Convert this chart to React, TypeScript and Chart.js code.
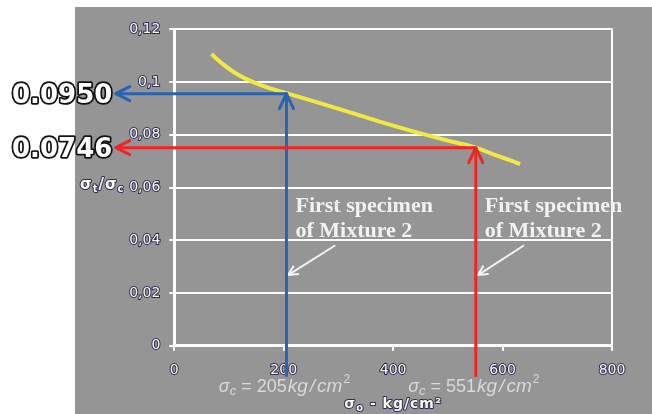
import { useEffect, useRef } from 'react';
import { Chart, registerables } from 'chart.js';

Chart.register(...registerables);

// ---- data ----
const curveX = [68, 90, 110, 130, 150, 175, 205, 260, 320, 380, 440, 500, 551, 590, 632];
const curveY = [0.1106, 0.1066, 0.1036, 0.1013, 0.0995, 0.0976, 0.0958, 0.0924, 0.0886, 0.0847, 0.0811, 0.0778, 0.0751, 0.0721, 0.0689];

const xTicks = [0, 200, 400, 600, 800];
const xTickLabels = ['0', '200', '400', '600', '800'];
const yTicks = [0, 0.02, 0.04, 0.06, 0.08, 0.1, 0.12];
const yTickLabels = ['0', '0,02', '0,04', '0,06', '0,08', '0,1', '0,12'];

const markerX = [205, 551];
const markerY = [0.0956, 0.0751];
const markerLabels = ['0.0950', '0.0746'];
const markerColors = ['#2b63b3', '#ec2626'];
const sigmaValues = ['205', '551'];
const arrowLeftX = -107;
const arrowBottomY = -0.0118;

const noteLines = ['First specimen', 'of Mixture 2'];
const noteY = 0.0508;
const pointerStartX = [293, 638];
const pointerTipX = [208, 555];
const pointerStartY = 0.0379;
const pointerTipY = 0.0268;

const xTitle = ['σ', 'o', ' - kg/cm²'];
const yTitle = ['σ', 't', '/', 'σ', 'c'];

// ---- styles ----
const BG = '#959595';
const CREAM = '#fffbea';
const FRINGE = 'rgba(35,30,85,0.9)';
const WHITE = '#ffffff';

function head(ctx: CanvasRenderingContext2D, tx: number, ty: number, ang: number, len: number, half: number) {
  const dx = Math.cos(ang), dy = Math.sin(ang);
  const bx = tx - dx * len, by = ty - dy * len;
  const nx = -dy, ny = dx;
  ctx.beginPath();
  ctx.moveTo(bx + nx * half, by + ny * half);
  ctx.lineTo(tx, ty);
  ctx.lineTo(bx - nx * half, by - ny * half);
  ctx.stroke();
}

function fringeText(ctx: CanvasRenderingContext2D, t: string, x: number, y: number) {
  ctx.lineWidth = 2;
  ctx.strokeStyle = FRINGE;
  ctx.lineJoin = 'round';
  ctx.strokeText(t, x, y);
  ctx.fillStyle = CREAM;
  ctx.fillText(t, x, y);
}

type Piece = { t: string; font: string; dy?: number; gap?: number };

function measurePieces(ctx: CanvasRenderingContext2D, pieces: Piece[]) {
  let w = 0;
  pieces.forEach((p) => {
    ctx.font = p.font;
    w += ctx.measureText(p.t).width + (p.gap || 0);
  });
  return w;
}

function drawPieces(ctx: CanvasRenderingContext2D, pieces: Piece[], x: number, y: number, fringe: boolean, color?: string) {
  let cx = x;
  pieces.forEach((p) => {
    ctx.font = p.font;
    if (fringe) fringeText(ctx, p.t, cx, y + (p.dy || 0));
    else {
      ctx.fillStyle = color || WHITE;
      ctx.fillText(p.t, cx, y + (p.dy || 0));
    }
    cx += ctx.measureText(p.t).width + (p.gap || 0);
  });
}

const decor = {
  id: 'decor',
  beforeDraw(chart: any) {
    const { ctx, width, height } = chart;
    ctx.save();
    ctx.fillStyle = '#ffffff';
    ctx.fillRect(0, 0, width, height);
    ctx.fillStyle = BG;
    ctx.fillRect(75, 7, width - 75, height - 7);
    ctx.restore();
  },
  beforeDatasetsDraw(chart: any) {
    const { ctx, chartArea: ca } = chart;
    ctx.save();
    ctx.strokeStyle = WHITE;
    ctx.lineWidth = 2;
    ctx.beginPath();
    ctx.moveTo(Math.round(ca.right), ca.top - 1);
    ctx.lineTo(Math.round(ca.right), ca.bottom);
    ctx.stroke();
    ctx.restore();
  },
  afterDraw(chart: any) {
    const { ctx, chartArea: ca, scales } = chart;
    const xs = scales.x, ys = scales.y;
    ctx.save();
    ctx.textAlign = 'left';
    ctx.textBaseline = 'alphabetic';

    // notes + pointer arrows
    markerX.forEach((mx, i) => {
      const px = xs.getPixelForValue(mx);
      const ny = ys.getPixelForValue(noteY);
      ctx.font = 'bold 22px "Liberation Serif"';
      ctx.fillStyle = '#f2f2f2';
      noteLines.forEach((ln, j) => ctx.fillText(ln, px + 9, ny + j * 25.6));

      const sx = xs.getPixelForValue(pointerStartX[i]);
      const sy = ys.getPixelForValue(pointerStartY);
      const tx = xs.getPixelForValue(pointerTipX[i]);
      const ty = ys.getPixelForValue(pointerTipY);
      ctx.strokeStyle = '#f4f4f4';
      ctx.lineWidth = 2;
      ctx.lineCap = 'round';
      ctx.lineJoin = 'round';
      ctx.beginPath();
      ctx.moveTo(sx, sy);
      ctx.lineTo(tx, ty);
      ctx.stroke();
      head(ctx, tx, ty, Math.atan2(ty - sy, tx - sx), 9, 4.5);
    });

    // marker arrows
    markerX.forEach((mx, i) => {
      const px = xs.getPixelForValue(mx);
      const py = ys.getPixelForValue(markerY[i]);
      const lx = xs.getPixelForValue(arrowLeftX);
      const by = ys.getPixelForValue(arrowBottomY);
      ctx.strokeStyle = markerColors[i];
      ctx.lineWidth = 3;
      ctx.lineCap = 'round';
      ctx.lineJoin = 'round';
      ctx.beginPath();
      ctx.moveTo(px, py);
      ctx.lineTo(lx + 1, py);
      ctx.stroke();
      ctx.lineCap = 'butt';
      ctx.beginPath();
      ctx.moveTo(px, by);
      ctx.lineTo(px, py + 1);
      ctx.stroke();
      ctx.lineCap = 'round';
      head(ctx, lx, py, Math.PI, 14, 7);
      head(ctx, px, py, -Math.PI / 2, 15, 7);

      // outlined value label
      ctx.font = 'bold 26px "DejaVu Sans"';
      ctx.lineWidth = 3.5;
      ctx.strokeStyle = '#111111';
      ctx.strokeText(markerLabels[i], 12, py + 9.5);
      ctx.fillStyle = '#ffffff';
      ctx.fillText(markerLabels[i], 12, py + 9.5);

      // sigma expression
      const pieces: Piece[] = [
        { t: 'σ', font: 'italic 18px "Liberation Sans"' },
        { t: 'c', font: 'italic 13px "Liberation Sans"', dy: 3 },
        { t: ' = ' + sigmaValues[i], font: '18px "Liberation Sans"', gap: 1 },
        { t: 'kg', font: 'italic 19px "Liberation Sans"', gap: 2 },
        { t: '/', font: 'italic 19px "Liberation Sans"', gap: 2 },
        { t: 'cm', font: 'italic 19px "Liberation Sans"', gap: 1 },
        { t: '2', font: '12px "Liberation Sans"', dy: -9 },
      ];
      const w = measurePieces(ctx, pieces);
      drawPieces(ctx, pieces, px - 2 - w / 2, ca.bottom + 46, false, '#d9d9d9');
    });

    // axis titles
    ctx.letterSpacing = '1px';
    const xp: Piece[] = [
      { t: xTitle[0], font: 'bold 14px "DejaVu Sans"' },
      { t: xTitle[1], font: 'bold 10px "DejaVu Sans"', dy: 3 },
      { t: xTitle[2], font: 'bold 14px "DejaVu Sans"' },
    ];
    const xw = measurePieces(ctx, xp);
    drawPieces(ctx, xp, (ca.left + ca.right) / 2 - xw / 2, ca.bottom + 62.5, true);

    const yp: Piece[] = [
      { t: yTitle[0], font: 'bold 15px "DejaVu Sans"' },
      { t: yTitle[1], font: 'bold 10px "DejaVu Sans"', dy: 3 },
      { t: yTitle[2], font: 'bold 15px "DejaVu Sans"' },
      { t: yTitle[3], font: 'bold 15px "DejaVu Sans"' },
      { t: yTitle[4], font: 'bold 10px "DejaVu Sans"', dy: 3 },
    ];
    drawPieces(ctx, yp, 80, ys.getPixelForValue(0.06) + 1, true);
    ctx.letterSpacing = '0px';
    ctx.restore();
  },
};

export default function App() {
  const ref = useRef<HTMLCanvasElement | null>(null);
  useEffect(() => {
    if (!ref.current) return;
    const chart = new Chart(ref.current, {
      type: 'scatter',
      data: {
        datasets: [
          {
            data: curveX.map((x, i) => ({ x, y: curveY[i] })),
            showLine: true,
            borderColor: '#efe845',
            borderWidth: 4,
            pointRadius: 0,
            cubicInterpolationMode: 'monotone',
            fill: false,
          },
        ],
      },
      options: {
        animation: false,
        responsive: false,
        devicePixelRatio: 1,
        layout: { padding: { top: 29.3, right: 40, left: 0, bottom: 0 } },
        plugins: { legend: { display: false }, tooltip: { enabled: false }, title: { display: false } },
        scales: {
          x: {
            type: 'linear',
            min: 0,
            max: 800,
            afterBuildTicks: (s: any) => {
              s.ticks = xTicks.map((v) => ({ value: v }));
            },
            afterFit: (s: any) => {
              s.height = 68.3;
            },
            grid: { drawOnChartArea: false, drawTicks: true, tickLength: 5, color: WHITE, lineWidth: 2 },
            border: { display: true, color: WHITE, width: 3 },
            ticks: {
              callback: (_v: any, i: number) => xTickLabels[i],
              color: CREAM,
              font: { family: 'DejaVu Sans', size: 14 },
              padding: 11,
              maxRotation: 0,
              autoSkip: false,
              textStrokeColor: FRINGE,
              textStrokeWidth: 2,
            } as any,
          },
          y: {
            type: 'linear',
            min: 0,
            max: 0.12,
            afterBuildTicks: (s: any) => {
              s.ticks = yTicks.map((v) => ({ value: v }));
            },
            afterFit: (s: any) => {
              s.width = 174.3;
            },
            grid: { drawOnChartArea: true, drawTicks: true, tickLength: 5, color: WHITE, lineWidth: 2 },
            border: { display: true, color: WHITE, width: 3 },
            ticks: {
              callback: (_v: any, i: number) => yTickLabels[i],
              color: CREAM,
              font: { family: 'DejaVu Sans', size: 14 },
              padding: 9,
              autoSkip: false,
              textStrokeColor: FRINGE,
              textStrokeWidth: 2,
            } as any,
          },
        },
      },
      plugins: [decor],
    });
    return () => chart.destroy();
  }, []);
  return (
    <div style={{ position: 'absolute', left: 0, top: 0, width: 652, height: 414 }}>
      <canvas ref={ref} width={652} height={414} style={{ display: 'block' }} />
    </div>
  );
}
